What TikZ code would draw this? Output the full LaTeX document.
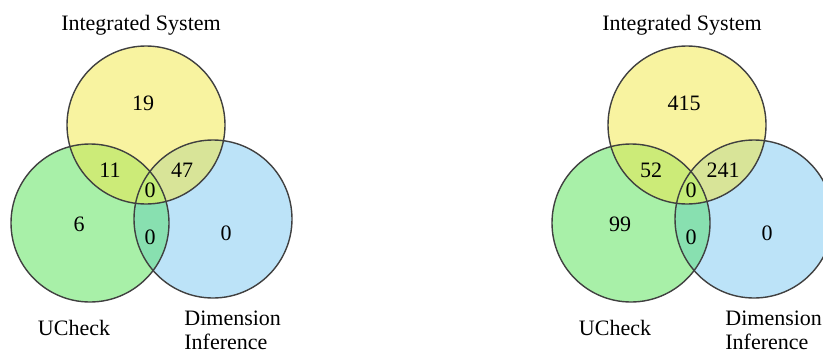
\documentclass[tikz,border=0pt]{standalone}
\usepackage{fontspec}
\setmainfont{Liberation Serif}
\usepackage{xcolor}

\definecolor{isyellow}{HTML}{F8F3A0}
\definecolor{ucgreen}{HTML}{A8F0A8}
\definecolor{diblue}{HTML}{BCE3F8}
\definecolor{isuc}{HTML}{CCEB78}
\definecolor{isdi}{HTML}{D8E498}
\definecolor{ucdi}{HTML}{88E0B0}
\definecolor{allthree}{HTML}{C4EC78}

\tikzset{
	setline/.style={draw=black!75, line width=0.7pt},
	count/.style={inner sep=1pt},
	setname/.style={inner sep=1pt}
}

\begin{document}
\begin{tikzpicture}[x=0.5pt, y=-0.5pt]
	\def\r{39.5pt}
	\fontsize{11}{12}\selectfont
	\useasboundingbox (0,0) rectangle (823,354);

	\foreach \dx/\k/\a/\b/\c/\d/\e/\f/\g in {0/l/19/11/47/0/0/6/0, 541/r/415/52/241/0/0/99/0}{
		\coordinate (Y\k) at (146+\dx,125);
		\coordinate (G\k) at (90+\dx,223);
		\coordinate (B\k) at (213+\dx,219);

		\fill[isyellow] (Y\k) circle[radius=\r];
		\fill[ucgreen] (G\k) circle[radius=\r];
		\fill[diblue] (B\k) circle[radius=\r];
		\begin{scope}
			\clip (Y\k) circle[radius=\r];
			\fill[isuc] (G\k) circle[radius=\r];
			\fill[isdi] (B\k) circle[radius=\r];
		\end{scope}
		\begin{scope}
			\clip (G\k) circle[radius=\r];
			\fill[ucdi] (B\k) circle[radius=\r];
			\clip (Y\k) circle[radius=\r];
			\fill[allthree] (B\k) circle[radius=\r];
		\end{scope}
		\foreach \c in {Y,G,B}{
			\draw[setline] (\c\k) circle[radius=\r];
		}

		% set names
		\node[setname] (is\k) at (141+\dx,25) {Integrated System};
		\node[setname] (uc\k) at (74+\dx,328) {UCheck};
		\node[setname, align=left, anchor=west] (di\k) at (182+\dx,330) {Dimension\\Inference};

		% counts
		\node[count] (onlyis\k) at (143+\dx,103) {\a};
		\node[count] (isuc\k) at (110+\dx,170) {\b};
		\node[count] (isdi\k) at (182+\dx,170) {\c};
		\node[count] (all\k) at (150+\dx,190) {\d};
		\node[count] (ucdi\k) at (150+\dx,237) {\e};
		\node[count] (onlyuc\k) at (79+\dx,224) {\f};
		\node[count] (onlydi\k) at (226+\dx,233) {\g};
	}
\end{tikzpicture}
\end{document}
